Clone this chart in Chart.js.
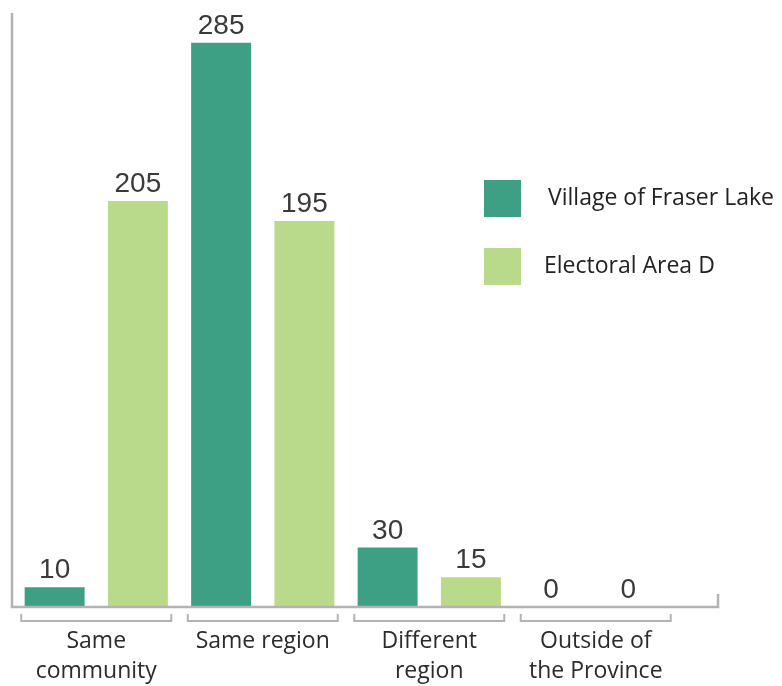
<!DOCTYPE html>
<html>
<head>
<meta charset="utf-8">
<script src="https://cdn.jsdelivr.net/npm/chart.js@4"></script>
<style>
  html, body { margin: 0; padding: 0; background: #fff; }
  #wrap { width: 782px; height: 686px; position: relative; }
</style>
</head>
<body>
<div id="wrap"><canvas id="myChart"></canvas></div>
<script>
// categorie e valori
const categories = [['Same', 'community'], ['Same region'], ['Different', 'region'], ['Outside of', 'the Province']];
const villageValues = [10, 285, 30, 0];
const areaDValues = [205, 195, 15, 0];
const seriesNames = ['Village of Fraser Lake', 'Electoral Area D'];
const seriesColors = ['#3da085', '#b9da8a'];

const FONT = '"Open Sans", sans-serif';
const NUM_FONT = '"Liberation Sans", Arial, sans-serif';
const AXIS_COLOR = '#b3b3b3';

// assi, parentesi sotto le categorie, etichette e legenda disegnati a mano
const decorPlugin = {
  id: 'decor',
  afterDatasetsDraw(chart) {
    const ctx = chart.ctx;
    const area = chart.chartArea;
    const x = chart.scales.x;
    ctx.save();

    // asse verticale e orizzontale
    ctx.strokeStyle = AXIS_COLOR;
    ctx.lineWidth = 2.5;
    ctx.beginPath();
    ctx.moveTo(area.left - 1, area.top);
    ctx.lineTo(area.left - 1, area.bottom);
    ctx.lineTo(area.right + 39, area.bottom);
    ctx.lineTo(area.right + 39, area.bottom - 13);
    ctx.stroke();

    // parentesi e nomi delle categorie
    ctx.lineWidth = 2;
    ctx.fillStyle = '#2b2b2b';
    ctx.font = '23px ' + FONT;
    ctx.textAlign = 'center';
    ctx.textBaseline = 'middle';
    categories.forEach((lines, i) => {
      const cx = x.getPixelForValue(i);
      ctx.beginPath();
      ctx.moveTo(cx - 75, area.bottom + 7);
      ctx.lineTo(cx - 75, area.bottom + 14);
      ctx.lineTo(cx + 75, area.bottom + 14);
      ctx.lineTo(cx + 75, area.bottom + 7);
      ctx.stroke();
      lines.forEach((t, j) => ctx.fillText(t, cx, area.bottom + 34 + j * 30));
    });

    // valori sopra le barre
    ctx.font = '28px ' + NUM_FONT;
    ctx.fillStyle = '#3a3a3a';
    ctx.textBaseline = 'alphabetic';
    chart.data.datasets.forEach((ds, di) => {
      chart.getDatasetMeta(di).data.forEach((bar, i) => {
        const shift = ds.data[i] === 0 ? (di === 0 ? -3 : -9) : 0;
        ctx.fillText(String(ds.data[i]), bar.x + shift, bar.y - 9);
      });
    });

    // legenda
    ctx.textAlign = 'left';
    ctx.textBaseline = 'middle';
    ctx.font = '23px ' + FONT;
    const legendPos = [{ y: 180, tx: 548 }, { y: 248, tx: 544 }];
    chart.data.datasets.forEach((ds, di) => {
      const p = legendPos[di];
      ctx.fillStyle = ds.backgroundColor;
      ctx.fillRect(484, p.y, 37, 37);
      ctx.fillStyle = '#222';
      ctx.fillText(ds.label, p.tx, p.y + 18);
    });
    ctx.restore();
  }
};

const ctx = document.getElementById('myChart').getContext('2d');
const myChart = new Chart(ctx, {
  type: 'bar',
  data: {
    labels: categories,
    datasets: [
      { label: seriesNames[0], data: villageValues, backgroundColor: seriesColors[0] },
      { label: seriesNames[1], data: areaDValues, backgroundColor: seriesColors[1] }
    ]
  },
  options: {
    responsive: true,
    maintainAspectRatio: false,
    animation: false,
    categoryPercentage: 1.0,
    barPercentage: 0.72,
    layout: { padding: { left: 13, right: 103, top: 13, bottom: 79 } },
    plugins: { legend: { display: false }, tooltip: { enabled: false } },
    scales: {
      x: { display: false },
      y: { display: false, min: 0, max: 300 }
    }
  },
  plugins: [decorPlugin]
});
</script>
</body>
</html>
